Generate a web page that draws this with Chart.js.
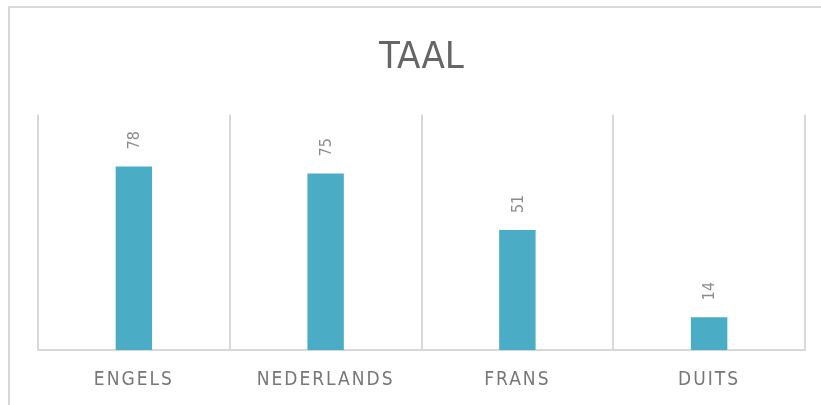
<!DOCTYPE html>
<html>
<head>
<meta charset="utf-8">
<script src="https://cdn.jsdelivr.net/npm/chart.js@4"></script>
<style>
    html, body { margin: 0; padding: 0; background: #fff; overflow: hidden; }
    #frame { position: absolute; left: 8px; top: 6px; width: 900px; height: 500px; border: 2px solid #d9d9d9; }
    #wrap { position: absolute; left: 0; top: 0; width: 821px; height: 405px; }
</style>
</head>
<body>
<div id="frame"></div>
<div id="wrap"><canvas id="taalChart"></canvas></div>
<script>
const categories = ['ENGELS', 'NEDERLANDS', 'FRANS', 'DUITS'];
const values = [78, 75, 51, 14];
const titleText = 'TAAL';

const labelFont = "'Liberation Sans Narrow', 'DejaVu Sans Condensed', sans-serif";

// draws the rotated value above each bar
const valueLabels = {
    id: 'valueLabels',
    afterDatasetsDraw(chart) {
        const ctx = chart.ctx;
        const meta = chart.getDatasetMeta(0);
        ctx.save();
        ctx.font = '16px ' + labelFont;
        ctx.fillStyle = '#8c8c8c';
        ctx.letterSpacing = '0px';
        ctx.textAlign = 'left';
        ctx.textBaseline = 'middle';
        meta.data.forEach((bar, i) => {
            ctx.save();
            ctx.translate(bar.x + 1, bar.y - 17);
            ctx.rotate(-Math.PI / 2);
            ctx.fillText(String(values[i]), 0, 0);
            ctx.restore();
        });
        ctx.restore();
        // category labels come after this (ticks z: 1), spaced out a bit
        ctx.letterSpacing = '2px';
    },
    afterDraw(chart) {
        chart.ctx.letterSpacing = '0px';
    }
};

const ctx = document.getElementById('taalChart').getContext('2d');
const taalChart = new Chart(ctx, {
    type: 'bar',
    data: {
        labels: categories,
        datasets: [{
            data: values,
            backgroundColor: '#4bacc6',
            barPercentage: 0.19,
            categoryPercentage: 1.0
        }]
    },
    options: {
        responsive: true,
        maintainAspectRatio: false,
        animation: false,
        layout: { padding: { left: 38, right: 16, top: 0, bottom: -4 } },
        plugins: {
            legend: { display: false },
            tooltip: { enabled: false },
            title: {
                display: true,
                text: titleText,
                color: '#666666',
                font: { family: labelFont, size: 38, weight: 'normal' },
                padding: { top: 35, bottom: 34 }
            }
        },
        scales: {
            x: {
                grid: { color: '#d9d9d9', lineWidth: 2, drawTicks: false, offset: true },
                border: { color: '#d9d9d9', width: 2 },
                ticks: {
                    z: 1,
                    color: '#777777',
                    font: { family: labelFont, size: 19 },
                    padding: 18
                }
            },
            y: {
                display: false,
                min: 0,
                max: 100
            }
        }
    },
    plugins: [valueLabels]
});
</script>
</body>
</html>
